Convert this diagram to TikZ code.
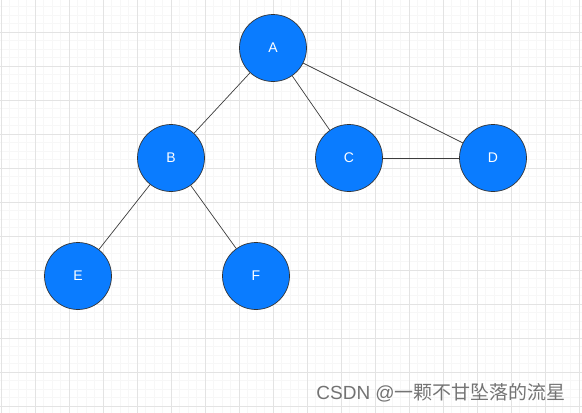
\documentclass[tikz,border=0pt]{standalone}
\usepackage{fontspec}
\setmainfont{Liberation Sans}
\newfontfamily\cjkfont{Noto Sans CJK SC}
\definecolor{nodeblue}{RGB}{10,124,255}
\definecolor{edgegray}{RGB}{60,60,60}
\tikzset{
  vertex/.style={circle, draw=black!80, fill=nodeblue, line width=0.7pt,
    minimum size=67pt, inner sep=0pt, text=white, font=\fontsize{14}{16}\selectfont},
  minorline/.style={draw=black!3, line width=0.5pt},
  majorline/.style={draw=black!11, line width=0.7pt}
}
\begin{document}
\begin{tikzpicture}[x=1pt, y=-1pt]
  \useasboundingbox (0,0) rectangle (582,413);
  \begin{scope}
    \clip (0,0) rectangle (582,413);
    \foreach \k in {0,...,69} \draw[minorline] ({1+8.5*\k},0) -- ({1+8.5*\k},413);
    \foreach \k in {0,...,49} \draw[minorline] (0,{-2+8.5*\k}) -- (582,{-2+8.5*\k});
    \foreach \k in {0,...,17} \draw[majorline] ({1+34*\k},0) -- ({1+34*\k},413);
    \foreach \k in {0,...,12} \draw[majorline] (0,{-2+34*\k}) -- (582,{-2+34*\k});
  \end{scope}
  \draw
    (273,48) node[vertex] (A){A}
    (171,158) node[vertex] (B){B}
    (349,158) node[vertex] (C){C}
    (493,158) node[vertex] (D){D}
    (78,276) node[vertex] (E){E}
    (256,276) node[vertex] (F){F};
  \begin{scope}[-, edgegray, line width=0.7pt]
    \draw (A) to (B);
    \draw (A) to (C);
    \draw (A) to (D);
    \draw (B) to (E);
    \draw (B) to (F);
    \draw (C) to (D);
  \end{scope}
  \node[anchor=east, text=black!55, inner sep=0pt, font=\fontsize{19}{22}\selectfont]
    (mark) at (566,393) {CSDN @{\cjkfont 一颗不甘坠落的流星}};
\end{tikzpicture}
\end{document}
